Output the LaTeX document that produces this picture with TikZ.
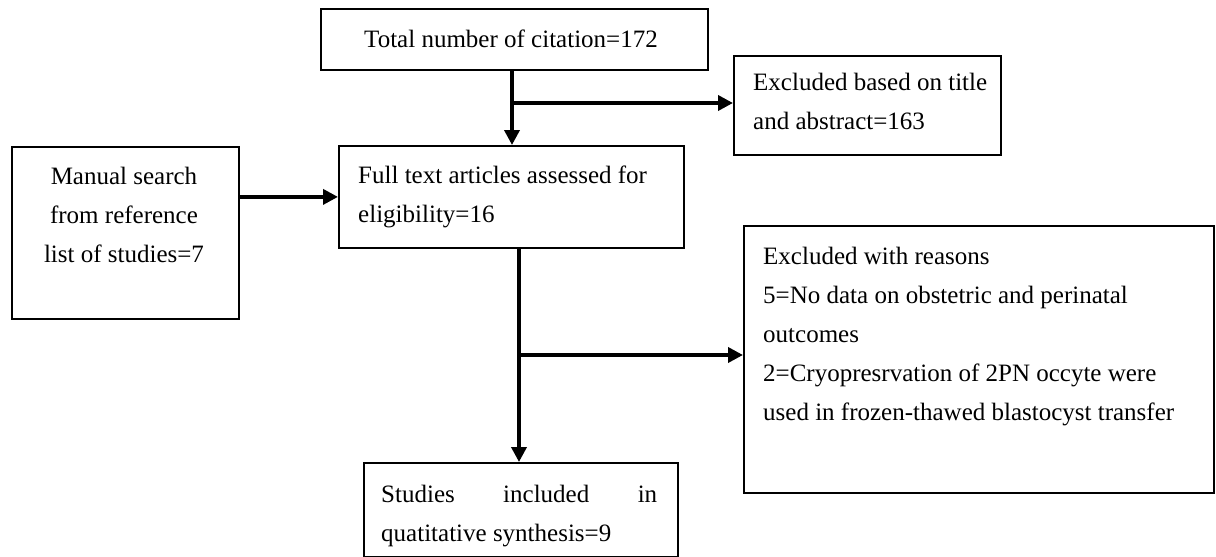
\documentclass[tikz,border=0pt]{standalone}
\usepackage{fontspec}
\setmainfont{Liberation Serif}
\usetikzlibrary{arrows.meta, calc}

\tikzset{
  box/.style={draw, line width=1.8pt, inner sep=0pt, anchor=north west},
  txt/.style={inner sep=0pt, align=left, font=\fontsize{25}{39}\selectfont},
  flow/.style={line width=3.6pt, -{Triangle[length=15pt,width=15pt]}},
}

\begin{document}
\begin{tikzpicture}[x=1pt, y=-1pt]
\useasboundingbox (0,0) rectangle (1216,557);
% Cajas del diagrama de flujo
\node[box, minimum width=387pt, minimum height=61pt] (total) at (320,8) {};
\node[box, minimum width=267pt, minimum height=99pt] (excl1) at (733,55) {};
\node[box, minimum width=227pt, minimum height=172pt] (manual) at (11,146) {};
\node[box, minimum width=345pt, minimum height=102pt] (full) at (338,145) {};
\node[box, minimum width=470pt, minimum height=267pt] (excl2) at (743,225) {};
\node[box, minimum width=314pt, minimum height=93.5pt] (studies) at (363,462) {};

% Textos
\node[txt, anchor=north] (totaltxt) at (511,19.7) {\strut Total number of citation=172};
\node[txt, anchor=north west] (excl1txt) at (753,62.7) {\strut Excluded based on title\\and abstract=163};
\node[txt, anchor=north, align=center] (manualtxt) at (124,156.7) {\strut Manual search\\from reference\\list of studies=7};
\node[txt, anchor=north west] (fulltxt) at (358,155.7) {\strut Full text articles assessed for\\eligibility=16};
\node[txt, anchor=north west] (excl2txt) at (763,236.7) {\strut Excluded with reasons\\5=No data on obstetric and perinatal\\outcomes\\2=Cryopresrvation of 2PN occyte were\\used in frozen-thawed blastocyst transfer};
\node[txt, anchor=north west] (studiestxt) at (381,474.7) {\strut\makebox[276pt][s]{Studies included in}\\quatitative synthesis=9};

% Flechas
\coordinate (J1) at (512,103);
\draw[flow] (J1 |- total.south) -- (J1 |- full.north);
\draw[flow] (J1) -- (J1 -| excl1.west);
\draw[flow] (manual.east |- full.west) -- (full.west);
\coordinate (J2) at (519,355);
\draw[flow] (J2 |- full.south) -- (J2 |- studies.north);
\draw[flow] (J2) -- (J2 -| excl2.west);
\end{tikzpicture}
\end{document}
